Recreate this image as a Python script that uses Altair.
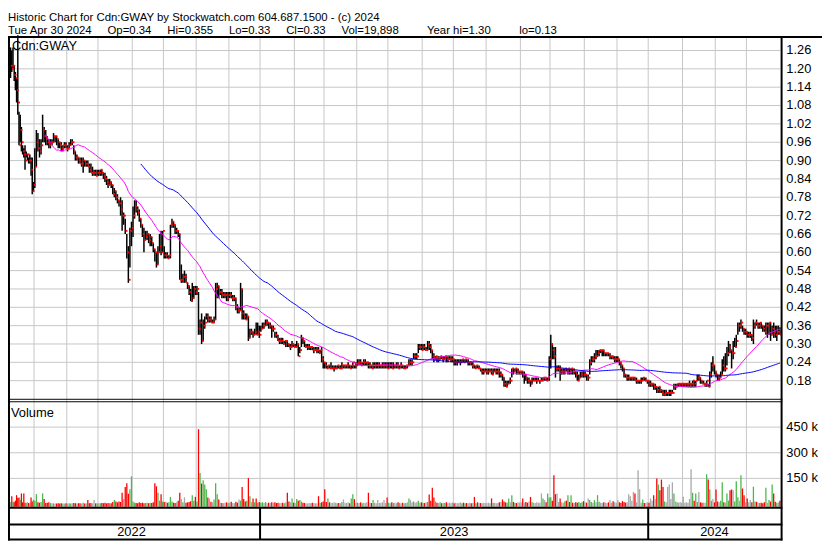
import altair as alt
import pandas as pd

# ---------------- data (prices in cents, volume in thousands) ----------------
MONTHS = ["2022-05", "2022-06", "2022-07", "2022-08", "2022-09", "2022-10", "2022-11", "2022-12",
          "2023-01", "2023-02", "2023-03", "2023-04", "2023-05", "2023-06", "2023-07", "2023-08",
          "2023-09", "2023-10", "2023-11", "2023-12", "2024-01", "2024-02", "2024-03", "2024-04"]

HIGH = [
    [127, 126, 127, 121, 119, 117, 131, 106, 105, 101, 95, 94, 95, 93, 92, 91, 92, 91, 91, 83],
    [94, 100, 99, 97, 97, 105, 101, 100, 98, 97, 97, 97, 99, 98, 98, 97, 96, 96, 95, 96, 96],
    [95, 96, 97, 97, 95, 93, 92, 91, 91, 91, 91, 90, 90, 90, 89, 89, 88, 87, 87, 87],
    [87, 87, 87, 86, 86, 85, 84, 84, 83, 82, 81, 80, 79, 77, 78, 77, 73, 71, 66, 62, 68, 70],
    [75, 77, 77, 75, 74, 71, 69, 68, 67, 67, 66, 66, 65, 63, 61, 60, 62, 66, 67, 67],
    [62, 60, 60, 59, 69, 71, 70, 69, 68, 67, 66, 56, 53, 54, 53, 50, 49, 48, 50, 49, 49],
    [49, 47, 38, 40, 38, 39, 40, 40, 39, 39, 38, 39, 50, 50, 49, 48, 48, 47, 47, 47, 47],
    [47, 47, 46, 46, 45, 43, 42, 50, 48, 41, 40, 40, 39, 35, 35, 34, 35, 37, 37, 36],
    [36, 37, 37, 38, 38, 37, 37, 36, 36, 34, 34, 33, 32, 32, 32, 31, 31, 31, 30, 30, 31, 30],
    [30, 31, 30, 29, 33, 32, 31, 30, 30, 30, 29, 29, 29, 29, 29, 29, 28, 29, 26],
    [24, 24, 23, 23, 24, 23, 23, 23, 23, 23, 23, 24, 23, 23, 23, 24, 23, 23, 24, 23, 24],
    [25, 25, 25, 24, 25, 25, 24, 24, 24, 23, 24, 24, 24, 24, 24, 23, 24, 24, 24, 24],
    [24, 24, 24, 24, 23, 24, 24, 23, 24, 23, 23, 23, 23, 25, 25, 25, 27, 27, 27, 30, 30, 30],
    [30, 30, 29, 31, 31, 30, 28, 27, 26, 26, 26, 26, 26, 26, 26, 26, 26, 26, 26, 26],
    [25, 25, 25, 25, 25, 25, 25, 25, 25, 25, 24, 24, 24, 23, 23, 23, 23, 22, 22, 22, 22],
    [22, 22, 22, 22, 22, 22, 22, 22, 22, 21, 20, 19, 18, 18, 18, 19, 22, 22, 22, 22, 22, 21],
    [21, 21, 21, 20, 19, 19, 18, 19, 19, 19, 19, 19, 18, 19, 19, 19, 19, 19, 26],
    [33, 30, 29, 29, 23, 23, 23, 22, 22, 22, 22, 22, 22, 22, 22, 22, 21, 21, 20, 21, 21, 21],
    [21, 20, 20, 25, 26, 26, 27, 28, 28, 28, 28, 28, 28, 27, 27, 27, 27, 26, 26, 26, 26],
    [26, 25, 24, 23, 22, 20, 20, 20, 19, 19, 19, 19, 19, 18, 18, 19, 19, 19, 19, 18],
    [18, 18, 17, 17, 17, 16, 16, 16, 15, 15, 15, 15, 14, 15, 15, 15, 17, 17, 17, 17, 17, 17],
    [17, 17, 17, 17, 18, 17, 18, 18, 18, 20, 20, 19, 18, 18, 17, 18, 17, 21, 24, 26, 23],
    [21, 20, 20, 21, 25, 26, 27, 29, 31, 30, 28, 31, 32, 33, 37, 37, 38, 36, 35, 35],
    [34, 34, 34, 33, 38, 37, 38, 37, 37, 37, 36, 36, 37, 37, 37, 37, 36, 37, 36, 36, 36, 35.5],
]

LOW = [
    [117, 119, 120, 116, 113, 109, 105, 95, 96, 93, 92, 91, 87, 91, 90, 89, 89, 85, 79, 80],
    [81, 88, 93, 91, 92, 96, 96, 95, 95, 94, 94, 95, 96, 96, 95, 94, 94, 93, 93, 94, 94],
    [93, 94, 95, 95, 92, 90, 90, 89, 89, 88, 86, 88, 88, 88, 86, 86, 85, 85, 85, 85],
    [85, 85, 85, 84, 83, 82, 81, 82, 81, 79, 78, 77, 76, 75, 72, 67, 69, 66, 58, 50, 55, 62],
    [65, 71, 73, 72, 70, 68, 65, 60, 64, 64, 63, 62, 62, 60, 57, 55, 56, 60, 59, 60],
    [58, 58, 58, 58, 58, 68, 68, 66, 66, 65, 51, 50, 50, 50, 50, 48, 46, 44, 44, 45, 46],
    [46, 33, 33, 30, 31, 35, 38, 37, 37, 37, 37, 37, 38, 45, 45, 46, 45, 45, 45, 44, 44],
    [45, 45, 44, 44, 41, 40, 40, 41, 38, 38, 38, 38, 31, 32, 33, 32, 33, 33, 33, 32],
    [34, 35, 35, 36, 36, 35, 35, 32, 34, 32, 32, 31, 30, 30, 30, 30, 29, 29, 29, 28, 29, 29],
    [29, 29, 26, 27, 29, 30, 29, 29, 28, 28, 28, 28, 27, 28, 27, 27, 27, 24, 22],
    [22, 22, 22, 22, 22, 22, 21, 22, 22, 22, 22, 22, 22, 22, 22, 22, 22, 22, 22, 22, 22],
    [23, 23, 23, 23, 23, 23, 23, 22, 22, 22, 22, 22, 22, 22, 22, 22, 22, 22, 22, 22],
    [22, 22, 22, 22, 22, 22, 22, 22, 22, 22, 22, 22, 22, 23, 23, 23, 25, 25, 25, 27, 28, 28],
    [28, 28, 28, 28, 28, 27, 25, 24, 25, 24, 24, 25, 25, 24, 25, 24, 24, 25, 24, 24],
    [23, 23, 23, 24, 23, 24, 24, 24, 24, 23, 23, 23, 22, 22, 22, 22, 22, 21, 20, 20, 21],
    [20, 20, 21, 20, 20, 21, 20, 20, 19, 19, 18, 16, 16, 16, 17, 17, 19, 20, 21, 20, 20, 20],
    [20, 19, 17, 18, 17, 17, 16, 17, 18, 18, 17, 18, 17, 18, 18, 18, 18, 18, 18],
    [22, 25, 25, 19, 21, 21, 18, 20, 20, 20, 21, 20, 20, 20, 20, 20, 19, 18, 18, 19, 19, 19],
    [19, 18, 18, 20, 23, 24, 24, 25, 26, 26, 27, 26, 26, 26, 26, 26, 25, 25, 25, 24, 24],
    [24, 23, 22, 21, 19, 19, 18, 18, 18, 18, 18, 18, 17, 17, 17, 17, 18, 18, 18, 17],
    [16, 16, 16, 15, 15, 14, 14, 14, 14, 13, 13, 13, 13, 13, 13, 14, 15, 15, 16, 16, 16, 16],
    [16, 16, 16, 16, 16, 16, 16, 16, 16, 18, 18, 17, 17, 17, 16, 16, 16, 16, 19, 21, 20],
    [19, 18, 18, 19, 20, 21, 21, 23, 26, 27, 22, 25, 29, 29, 33, 34, 35, 34, 33, 33],
    [32, 32, 32, 31, 30, 35, 36, 35, 35, 35, 34, 34, 33, 32, 33, 31, 33, 32, 32, 31, 33, 33],
]

CLOSE = [
    [121, 120, 121, 118, 117, 113, 109, 95, 100, 96, 93, 92, 90, 92, 92, 90, 90, 87, 80, 82],
    [88, 96, 94, 93, 95, 100, 98, 97, 96, 95, 96, 96, 98, 98, 97, 96, 95, 94, 95, 95, 94],
    [94, 95, 96, 96, 93, 91, 91, 90, 89, 89, 90, 89, 89, 88, 87, 86, 86, 86, 85, 86],
    [86, 87, 86, 85, 84, 83, 82, 83, 82, 79, 80, 78, 77, 76, 74, 72, 72, 67, 60, 51, 67, 68],
    [72, 75, 74, 73, 71, 69, 66, 64, 65, 66, 64, 65, 63, 61, 60, 56, 60, 62, 60, 67],
    [59, 59, 58, 59, 69, 70, 69, 67, 67, 66, 51, 51, 52, 52, 50, 49, 47, 44, 45, 48, 47],
    [48, 35, 37, 31, 36, 37, 39, 38, 38, 37, 37, 38, 48, 49, 47, 47, 46, 46, 46, 45, 46],
    [46, 45, 45, 45, 42, 41, 41, 48, 40, 39, 38, 39, 32, 34, 34, 33, 34, 33, 34, 33],
    [35, 36, 36, 37, 37, 36, 36, 35, 35, 33, 32, 31, 31, 31, 30, 31, 31, 30, 29, 29, 30, 29],
    [29, 30, 26, 28, 32, 31, 29, 29, 29, 29, 29, 28, 28, 28, 28, 27, 28, 25, 24],
    [23, 22, 23, 22, 22, 22, 22, 22, 23, 22, 22, 23, 23, 23, 23, 23, 22, 23, 24, 23, 23],
    [24, 24, 23, 24, 24, 24, 24, 23, 23, 22, 23, 23, 23, 23, 23, 23, 23, 23, 23, 22],
    [23, 23, 22, 23, 23, 23, 22, 23, 23, 22, 22, 23, 23, 24, 24, 24, 26, 26, 26, 29, 29, 28],
    [29, 28, 28, 30, 29, 28, 26, 25, 26, 25, 25, 26, 25, 25, 26, 25, 25, 25, 25, 25],
    [24, 24, 24, 24, 24, 25, 24, 25, 24, 24, 24, 23, 23, 22, 23, 22, 22, 21, 21, 21, 21],
    [21, 21, 21, 20, 21, 21, 21, 21, 20, 20, 19, 17, 16, 17, 18, 18, 22, 21, 22, 21, 21, 21],
    [21, 20, 20, 19, 18, 18, 17, 18, 18, 18, 18, 18, 18, 18, 19, 19, 18, 19, 25],
    [30, 28, 26, 22, 22, 22, 21, 21, 21, 22, 21, 22, 21, 22, 21, 21, 20, 18, 19, 20, 21, 20],
    [20, 19, 19, 24, 25, 25, 26, 26, 27, 28, 28, 28, 27, 27, 27, 26, 26, 26, 25, 25, 25],
    [25, 24, 23, 22, 20, 19, 19, 19, 19, 19, 19, 18, 18, 18, 18, 18, 19, 18, 18, 18],
    [17, 17, 17, 16, 16, 15, 16, 15, 14, 13.5, 14, 14, 14, 14, 14, 14, 16, 16, 17, 17, 17, 17],
    [17, 17, 17, 17, 17, 17, 18, 17, 18, 19, 19, 18, 17, 17, 17, 18, 16, 20, 23, 23, 21],
    [20, 19, 19, 20, 23, 22, 22, 27, 29, 28, 27, 27, 29, 31, 36, 36, 37, 35, 34, 34],
    [33, 33, 33, 32, 36, 37, 36, 36, 37, 36, 35, 34, 36, 36, 37, 33, 35, 34, 33, 34, 34, 33],
]

VOLUME = [
    [12, 46, 15, 10, 20, 52, 35, 39, 25, 62, 10, 62, 8, 6, 12, 6, 8, 39, 15, 25],
    [20, 58, 10, 8, 12, 62, 30, 6, 8, 10, 6, 5, 4, 3, 3, 4, 3, 4, 3, 3, 4],
    [3, 4, 3, 5, 6, 4, 3, 5, 4, 3, 8, 3, 5, 23, 5, 6, 4, 23, 4, 5],
    [5, 4, 6, 5, 8, 4, 6, 5, 4, 12, 23, 15, 10, 15, 12, 66, 30, 100, 122, 60, 87, 162],
    [15, 8, 6, 5, 10, 6, 8, 5, 6, 7, 5, 8, 6, 10, 122, 104, 66, 20, 58, 15],
    [12, 14, 8, 10, 42, 15, 8, 6, 10, 20, 66, 29, 10, 39, 8, 10, 12, 17, 52, 20, 42],
    [15, 438, 181, 120, 139, 114, 87, 39, 33, 13, 10, 27, 122, 58, 27, 8, 6, 5, 8, 10, 6],
    [8, 13, 6, 5, 13, 8, 27, 20, 100, 30, 15, 20, 152, 46, 12, 33, 10, 33, 8, 12],
    [8, 10, 6, 12, 5, 8, 6, 10, 8, 10, 6, 8, 5, 6, 8, 5, 10, 66, 15, 10, 33, 8],
    [6, 29, 20, 23, 15, 8, 6, 5, 4, 6, 5, 8, 6, 4, 5, 46, 8, 10, 15],
    [87, 12, 33, 10, 8, 6, 10, 8, 5, 6, 5, 12, 27, 8, 6, 10, 5, 33, 58, 29, 8],
    [8, 6, 10, 5, 8, 6, 10, 66, 8, 6, 23, 8, 5, 23, 6, 8, 10, 23, 6, 39],
    [8, 5, 10, 6, 8, 5, 10, 6, 4, 8, 5, 6, 10, 33, 23, 10, 15, 8, 10, 20, 8, 10],
    [8, 6, 10, 12, 56, 20, 96, 39, 15, 8, 6, 10, 5, 8, 6, 10, 5, 8, 6, 10],
    [5, 8, 4, 6, 10, 4, 8, 5, 6, 4, 8, 5, 6, 42, 5, 10, 8, 6, 5, 8, 6],
    [6, 8, 5, 33, 6, 8, 5, 6, 10, 12, 27, 15, 10, 8, 33, 10, 52, 12, 8, 6, 10, 8],
    [10, 33, 8, 12, 8, 15, 42, 10, 8, 6, 10, 8, 8, 62, 33, 23, 10, 62, 39],
    [40, 20, 168, 58, 62, 12, 33, 10, 8, 17, 20, 52, 12, 52, 8, 6, 10, 8, 12, 6, 10, 17],
    [10, 8, 33, 23, 12, 8, 23, 10, 52, 14, 8, 6, 10, 8, 6, 10, 23, 8, 17, 10, 8],
    [23, 10, 8, 17, 12, 8, 10, 58, 46, 20, 71, 62, 10, 197, 87, 8, 27, 6, 8, 10],
    [8, 33, 20, 52, 30, 149, 114, 81, 143, 100, 15, 10, 100, 114, 30, 127, 62, 15, 10, 8, 12, 8],
    [42, 8, 10, 8, 30, 203, 66, 20, 62, 12, 71, 10, 8, 8, 8, 174, 143, 85, 20, 30, 10],
    [85, 15, 10, 20, 127, 10, 8, 62, 20, 81, 85, 81, 15, 133, 40, 20, 168, 91, 52, 10],
    [33, 10, 23, 10, 102, 15, 13, 8, 6, 8, 5, 10, 95, 8, 23, 15, 114, 62, 13, 8, 10, 20],
]

PRICE_TICKS = [0.18, 0.24, 0.30, 0.36, 0.42, 0.48, 0.54, 0.60, 0.66, 0.72, 0.78, 0.84,
               0.90, 0.96, 1.02, 1.08, 1.14, 1.20, 1.26]
VOLUME_TICKS = [150, 300, 450]
GAP = "\u00a0" * 4 + " "
WIDE_GAP = "\u00a0" * 8 + " "
TITLE_1 = "Historic Chart for Cdn:GWAY by Stockwatch.com 604.687.1500 - (c) 2024"
TITLE_2 = (GAP.join(["Tue Apr 30 2024", "Op=0.34", "Hi=0.355", "Lo=0.33", "Cl=0.33", "Vol=19,898"])
           + WIDE_GAP + "Year hi=1.30" + WIDE_GAP + "lo=0.13")
SYMBOL = "Cdn:GWAY"
VOLUME_LABEL = "Volume"
MA_SHORT, MA_LONG = 28, 89

# ---------------- build table ----------------
rows, month_bars = [], []
idx = 0
for m, (h, l, c, v) in enumerate(zip(HIGH, LOW, CLOSE, VOLUME)):
    n = min(len(h), len(l), len(c), len(v))
    month_bars.append(n)
    for k in range(n):
        rows.append(dict(i=idx, high=max(h[k], c[k]) / 100, low=min(l[k], c[k]) / 100,
                         close=c[k] / 100, vol=v[k], month=MONTHS[m]))
        idx += 1
N = idx
df = pd.DataFrame(rows)

starts = []
s = 0
for n in month_bars:
    starts.append(s)
    s += n
grid_df = pd.DataFrame({"b": [st - 0.5 for st in starts[1:]]})

years = []
for m, name in enumerate(MONTHS):
    y = name[:4]
    if not years or years[-1]["year"] != y:
        years.append({"year": y, "start": starts[m] - 0.5, "end": starts[m] + month_bars[m] - 0.5})
    else:
        years[-1]["end"] = starts[m] + month_bars[m] - 0.5
year_df = pd.DataFrame(years)
year_df["mid"] = (year_df["start"] + year_df["end"]) / 2
year_sep_df = year_df.iloc[1:][["start"]].rename(columns={"start": "b"})

price_tick_df = pd.DataFrame({"p": PRICE_TICKS, "label": [f"{p:.2f}" for p in PRICE_TICKS]})
vol_tick_df = pd.DataFrame({"v": VOLUME_TICKS, "label": [f"{v} k" for v in VOLUME_TICKS]})

# ---------------- layout (pixels of the plot area) ----------------
W, H = 822, 535
X_LEFT, X_JUN, X_RIGHT = 2, 26.3, 780.3
TOP = 26.6          # top frame line
FONT = "Liberation Sans"
GRID = "#c6c6c6"

X_SCALE = alt.Scale(domain=[-0.5, month_bars[0] - 0.5, N - 0.5], range=[X_LEFT, X_JUN, X_RIGHT],
                    zero=False, nice=False)
P_SCALE = alt.Scale(domain=[0.18, 1.26], range=[373.7, 40.3], zero=False, nice=False)
V_SCALE = alt.Scale(domain=[0, 450], range=[498.3, 420.6], zero=False, nice=False)

one = pd.DataFrame({"k": [0]})


def hline(y, x1, x2, w=1, color="black"):
    return alt.Chart(one).mark_rule(color=color, strokeWidth=w).encode(
        x=alt.value(x1), x2=alt.value(x2), y=alt.value(y))


def vline(x, y1, y2, w=1, color="black"):
    return alt.Chart(one).mark_rule(color=color, strokeWidth=w).encode(
        x=alt.value(x), y=alt.value(y1), y2=alt.value(y2))


def label(text, x, y, size=13, align="left", baseline="alphabetic", line_height=None):
    kw = dict(align=align, baseline=baseline, font=FONT, fontSize=size, color="black")
    if line_height is not None:
        kw.update(lineBreak="\n", lineHeight=line_height)
    return alt.Chart(pd.DataFrame({"t": [text]})).mark_text(**kw).encode(
        x=alt.value(x), y=alt.value(y), text="t:N")


base = alt.Chart(df)

# grid
price_grid = alt.Chart(price_tick_df).mark_rule(color=GRID, strokeWidth=1).encode(
    y=alt.Y("p:Q", scale=P_SCALE, axis=None), x=alt.value(X_LEFT), x2=alt.value(780))
vol_grid = alt.Chart(vol_tick_df).mark_rule(color=GRID, strokeWidth=1).encode(
    y=alt.Y("v:Q", scale=V_SCALE, axis=None), x=alt.value(X_LEFT), x2=alt.value(780))
month_grid = alt.Chart(grid_df).mark_rule(color=GRID, strokeWidth=1).encode(
    x=alt.X("b:Q", scale=X_SCALE, axis=None), y=alt.value(TOP + 1), y2=alt.value(501))

# volume
vol_bars = base.transform_window(
    prev="lag(close)", sort=[alt.SortField("i")]
).transform_calculate(
    dir="datum.prev == null ? 'flat' : (datum.close > datum.prev ? 'up' : (datum.close < datum.prev ? 'down' : 'flat'))"
).mark_rule(strokeWidth=1.3).encode(
    x=alt.X("i:Q", scale=X_SCALE, axis=None),
    y=alt.Y("vol:Q", scale=V_SCALE, axis=None),
    y2=alt.value(501),
    color=alt.Color("dir:N", scale=alt.Scale(domain=["down", "up", "flat"],
                                             range=["#ff0000", "#4cb84c", "#a8a8a8"]), legend=None))

# price bars
price_bars = base.mark_rule(color="black", strokeWidth=1.5).encode(
    x=alt.X("i:Q", scale=X_SCALE, axis=None),
    y=alt.Y("low:Q", scale=P_SCALE, axis=None), y2="high:Q")
close_ticks = base.mark_square(color="#ff0000", size=3.5, opacity=1, xOffset=1.3).encode(
    x=alt.X("i:Q", scale=X_SCALE, axis=None),
    y=alt.Y("close:Q", scale=P_SCALE, axis=None))


def ma_line(window, color):
    return base.transform_window(
        ma="mean(close)", n="count()", frame=[-(window - 1), 0], sort=[alt.SortField("i")]
    ).transform_filter(f"datum.n >= {window}").mark_line(color=color, strokeWidth=1).encode(
        x=alt.X("i:Q", scale=X_SCALE, axis=None),
        y=alt.Y("ma:Q", scale=P_SCALE, axis=None))


ma_s = ma_line(MA_SHORT, "#ff00ff")
ma_l = ma_line(MA_LONG, "#0000ff")

# labels
price_labels = alt.Chart(price_tick_df).mark_text(
    align="left", baseline="middle", font=FONT, fontSize=13, color="black").encode(
    x=alt.value(786), y=alt.Y("p:Q", scale=P_SCALE, axis=None), text="label:N")
vol_labels = alt.Chart(vol_tick_df).mark_text(
    align="left", baseline="middle", font=FONT, fontSize=13, color="black").encode(
    x=alt.value(786), y=alt.Y("v:Q", scale=V_SCALE, axis=None), text="label:N")
year_labels = alt.Chart(year_df).mark_text(
    align="center", baseline="middle", font=FONT, fontSize=13, color="black").encode(
    x=alt.X("mid:Q", scale=X_SCALE, axis=None), y=alt.value(527), text="year:N")
year_seps = alt.Chart(year_sep_df).mark_rule(color="black", strokeWidth=2).encode(
    x=alt.X("b:Q", scale=X_SCALE, axis=None), y=alt.value(502), y2=alt.value(534))

frame = [
    hline(TOP, 0, W, 2),
    vline(1, TOP - 1, H, 2),
    vline(781.2, TOP - 1, H, 2),
    hline(392.5, 0, 782, 1),
    hline(395, 0, 782, 1),
    hline(502, 0, 782, 2),
    hline(519, 0, 782, 2),
    hline(534, 0, 782, 2),
]

texts = [
    label(TITLE_1 + "\n" + TITLE_2, 0, 10.4, size=11.5, line_height=12.9),
    label(SYMBOL, 4, 39.5),
    label(VOLUME_LABEL, 3, 410),
]

chart = alt.layer(
    price_grid, vol_grid, month_grid, vol_bars, price_bars, close_ticks, ma_s, ma_l,
    *frame, year_seps, price_labels, vol_labels, year_labels, *texts
).resolve_scale(x="independent", y="independent").properties(
    width=W, height=H, padding=0, autosize=alt.AutoSizeParams(type="none"),
    background="white"
).configure_view(stroke=None)

chart.save("out.html", embed_options={"renderer": "svg", "actions": False})
